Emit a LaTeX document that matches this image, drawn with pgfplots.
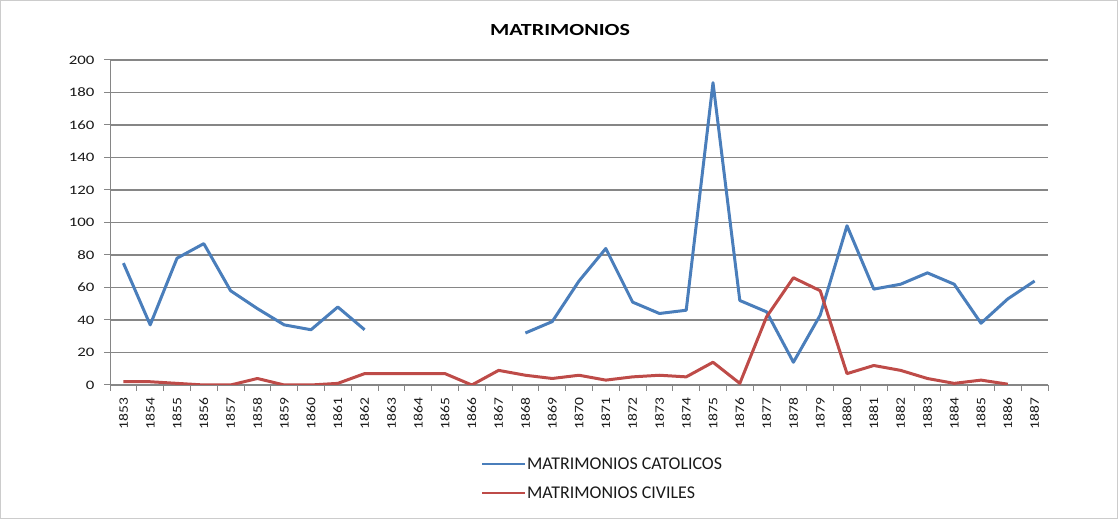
\documentclass[border=0pt]{standalone}
\usepackage{pgfplots}
\pgfplotsset{compat=1.18}
\usepackage{fontspec}
\setmainfont{Carlito}
\newfontfamily\titlefont[FakeStretch=1.3]{Carlito}
\newfontfamily\ytickfont[FakeStretch=1.3]{Carlito}
\newfontfamily\xtickfont[FakeStretch=1.2]{Carlito}
\definecolor{cblue}{RGB}{74,126,187}
\definecolor{cred}{RGB}{190,75,72}
\definecolor{gridc}{RGB}{134,134,134}
\begin{document}
\begin{tikzpicture}[x=1bp,y=1bp]
\draw[gray!40, line width=1bp] (0.5,0.5) rectangle (1117.5,518.5);
\node[font=\titlefont\fontsize{17}{19}\selectfont\bfseries] at (560,489) {MATRIMONIOS};
\begin{axis}[
  at={(110bp,134bp)}, anchor=south west,
  scale only axis, width=938bp, height=325bp,
  xmin=-0.5, xmax=34.5, ymin=0, ymax=200,
  ytick={0,20,...,200},
  xtick={0,...,34},
  xticklabels={1853,1854,1855,1856,1857,1858,1859,1860,1861,1862,1863,1864,1865,1866,1867,1868,1869,1870,1871,1872,1873,1874,1875,1876,1877,1878,1879,1880,1881,1882,1883,1884,1885,1886,1887},
  minor xtick={-0.5,0.5,...,34.5},
  x tick style={draw=none},
  minor x tick style={draw=gridc, line width=1bp},
  minor tick length=6bp,
  y tick style={draw=gridc, line width=1bp},
  major tick length=6bp,
  tick align=outside,
  axis x line*=bottom, axis y line*=left,
  axis line style={draw=gridc, line width=1bp, -},
  ymajorgrids, grid style={draw=gridc, line width=1.1bp},
  /pgf/number format/assume math mode=true,
  tick label style={text=black!90},
  xticklabel style={font=\xtickfont\fontsize{13}{15}\selectfont, rotate=90, anchor=east, xshift=-3bp},
  yticklabel style={font=\ytickfont\fontsize{13}{15}\selectfont, xshift=-6bp},
  unbounded coords=jump,
  legend style={at={(0.5245,-0.21)}, anchor=north, draw=none, fill=none,
    font=\fontsize{18}{20}\selectfont, row sep=12bp, text=black!90,
    nodes={inner xsep=1bp}},
  legend cell align=left,
  legend image code/.code={\draw[#1, line width=2.2bp] (0bp,0bp) -- (43bp,0bp);},
]
\addplot[cblue, line width=3bp, line join=round] coordinates {
(0,75) (1,37) (2,78) (3,87) (4,58) (5,47) (6,37) (7,34) (8,48) (9,34)
(10,nan) (11,nan) (12,nan) (13,nan) (14,nan)
(15,32) (16,39) (17,64) (18,84) (19,51) (20,44) (21,46) (22,186) (23,52) (24,45)
(25,14) (26,43) (27,98) (28,59) (29,62) (30,69) (31,62) (32,38) (33,53) (34,64)};
\addlegendentry{MATRIMONIOS CATOLICOS}
\addplot[cred, line width=3bp, line join=round] coordinates {
(0,2) (1,2) (2,1) (3,0) (4,0) (5,4) (6,0) (7,0) (8,1) (9,7)
(10,7) (11,7) (12,7) (13,0) (14,9) (15,6) (16,4) (17,6) (18,3) (19,5)
(20,6) (21,5) (22,14) (23,1) (24,42) (25,66) (26,58) (27,7) (28,12) (29,9)
(30,4) (31,1) (32,3) (33,0.5)};
\addlegendentry{MATRIMONIOS CIVILES}
\end{axis}
\end{tikzpicture}
\end{document}
